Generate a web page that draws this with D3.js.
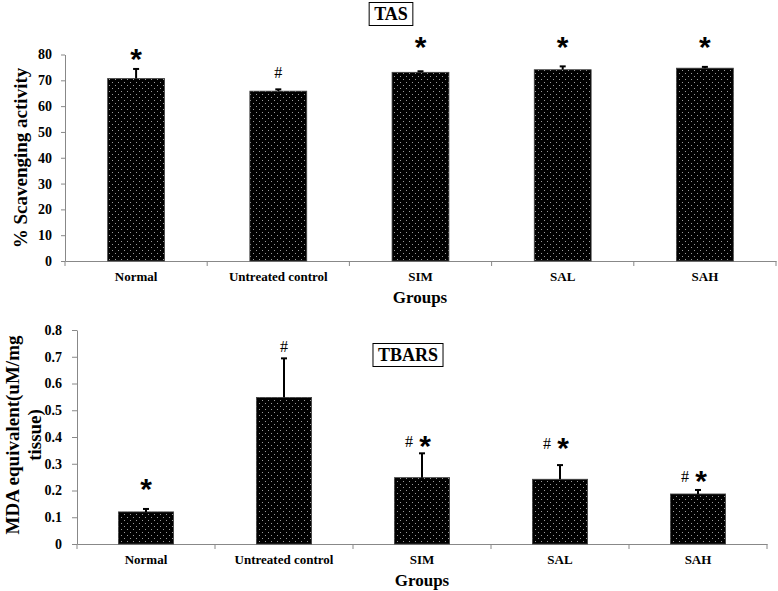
<!DOCTYPE html>
<html><head><meta charset="utf-8">
<script src="https://cdn.jsdelivr.net/npm/d3@7"></script>
<style>body{margin:0;background:#fff;} svg{display:block;font-family:"Liberation Serif","Times New Roman",serif;}</style>
</head><body>
<script>
const groups = ["Normal","Untreated control","SIM","SAL","SAH"];
const tasValues = [70.7, 65.8, 73.1, 74.1, 74.7];
const tasErrors = [3.7, 0.7, 0.4, 1.3, 0.5];
const tasMarks = ["*","#","*","*","*"];
const tasTicks = [0,10,20,30,40,50,60,70,80];
const tbarsValues = [0.12, 0.548, 0.248, 0.242, 0.187];
const tbarsErrors = [0.011, 0.146, 0.091, 0.053, 0.015];
const tbarsMarks = ["*","#","#*","#*","#*"];
const tbarsTicks = [0,0.1,0.2,0.3,0.4,0.5,0.6,0.7,0.8];

const W=778,H=591;
const svg=d3.select("body").append("svg").attr("width",W).attr("height",H);
const defs=svg.append("defs");
const pat=defs.append("pattern").attr("id","dots").attr("patternUnits","userSpaceOnUse").attr("width",6).attr("height",6);
pat.append("rect").attr("width",6).attr("height",6).attr("fill","#000");
pat.append("rect").attr("x",1).attr("y",1).attr("width",1).attr("height",1).attr("fill","#9a9a9a");
pat.append("rect").attr("x",4).attr("y",4).attr("width",1).attr("height",1).attr("fill","#9a9a9a");

function panel(o){
  const x=d3.scaleBand().domain(groups).range([o.x0,o.x1]).paddingInner(0.6).paddingOuter(0.3);
  const y=d3.scaleLinear().domain([0,o.ymax]).range([o.y0,o.y1]);
  const g=svg.append("g");
  const ya=g.append("g").attr("transform",`translate(${o.x0},0)`).call(d3.axisLeft(y).tickValues(o.ticks).tickSize(o.tk).tickPadding(o.tp).tickSizeOuter(0).tickFormat(o.fmt));
  ya.select(".domain").attr("stroke","#888");
  ya.selectAll(".tick line").attr("stroke","#888");
  ya.selectAll("text").attr("font-size",o.tfs).attr("font-weight","bold").attr("fill","#000").attr("font-family","Liberation Serif");
  const xa=g.append("g").attr("transform",`translate(0,${o.y0})`).call(d3.axisBottom(x).tickSize(0).tickSizeOuter(0));
  xa.select(".domain").attr("stroke","#888");
  xa.selectAll("text").attr("font-size",13).attr("font-weight","bold").attr("fill","#000").attr("font-family","Liberation Serif").attr("dy","1.3em");
  const step=x.step();
  const bounds=d3.range(groups.length+1).map(i=>o.x0+i*step);
  g.selectAll(".bt").data(bounds).join("line").attr("class","bt").attr("x1",d=>d).attr("x2",d=>d).attr("y1",o.y0).attr("y2",o.y0+5).attr("stroke","#888");
  g.selectAll(".bar").data(o.values).join("rect").attr("class","bar")
    .attr("x",(d,i)=>x(groups[i])).attr("y",d=>y(d)).attr("width",x.bandwidth()).attr("height",d=>y(0)-y(d))
    .attr("fill","url(#dots)").attr("stroke","#444").attr("stroke-width",0.8);
  const cx=i=>x(groups[i])+x.bandwidth()/2;
  g.selectAll(".eb").data(o.values).join("line").attr("class","eb")
    .attr("x1",(d,i)=>cx(i)).attr("x2",(d,i)=>cx(i)).attr("y1",d=>y(d)).attr("y2",(d,i)=>y(d+o.errors[i])).attr("stroke","#000").attr("stroke-width",2);
  g.selectAll(".ec").data(o.values).join("line").attr("class","ec")
    .attr("x1",(d,i)=>cx(i)-3).attr("x2",(d,i)=>cx(i)+3).attr("y1",(d,i)=>y(d+o.errors[i])).attr("y2",(d,i)=>y(d+o.errors[i])).attr("stroke","#000").attr("stroke-width",2);
  o.values.forEach((d,i)=>{
    const m=o.marks[i], yy=o.markY[i];
    if(m==="*"){
      g.append("text").attr("x",cx(i)).attr("y",yy+14).attr("text-anchor","middle").attr("font-family","Liberation Sans").attr("font-weight","bold").attr("font-size",30).text("*");
    } else if(m==="#"){
      g.append("text").attr("x",cx(i)).attr("y",yy+5).attr("text-anchor","middle").attr("font-family","Liberation Serif").attr("font-size",16).text("#");
    } else {
      g.append("text").attr("x",cx(i)-13).attr("y",yy+5).attr("text-anchor","middle").attr("font-family","Liberation Serif").attr("font-size",16).text("#");
      g.append("text").attr("x",cx(i)+3).attr("y",yy+14).attr("text-anchor","middle").attr("font-family","Liberation Sans").attr("font-weight","bold").attr("font-size",30).text("*");
    }
  });
  g.append("text").attr("x",o.gx).attr("y",o.gy).attr("text-anchor","middle").attr("font-weight","bold").attr("font-size",17).text("Groups");
  const box=g.append("rect").attr("fill","#fff").attr("stroke","#000").attr("stroke-width",1);
  const t=g.append("text").attr("x",o.tx).attr("y",o.ty+6).attr("text-anchor","middle").attr("font-weight","bold").attr("font-size",18).text(o.title);
  const bb=t.node().getBBox();
  box.attr("x",bb.x-5).attr("y",o.ty-11.5).attr("width",bb.width+10).attr("height",23);
}

panel({x0:65,x1:776,y0:261,y1:54.5,ymax:80,ticks:tasTicks,fmt:d3.format("d"),values:tasValues,errors:tasErrors,marks:tasMarks,
  markY:[55,73,43,43,43],tk:4,tp:9,tfs:14,gx:420,gy:303,title:"TAS",tx:391,ty:14});
panel({x0:77,x1:767,y0:544,y1:330,ymax:0.8,ticks:tbarsTicks,fmt:d=>d===0?"0":d3.format(".1f")(d),values:tbarsValues,errors:tbarsErrors,marks:tbarsMarks,
  markY:[485,347,442,444,477],tk:5,tp:10,tfs:14,gx:422,gy:586,title:"TBARS",tx:408,ty:355});

svg.append("text").attr("transform","translate(27,158) rotate(-90)").attr("text-anchor","middle").attr("font-weight","bold").attr("font-size",19).text("% Scavenging activity");
svg.append("text").attr("transform","translate(19,435) rotate(-90)").attr("text-anchor","middle").attr("font-weight","bold").attr("font-size",19).text("MDA equivalent(uM/mg");
svg.append("text").attr("transform","translate(41,435) rotate(-90)").attr("text-anchor","middle").attr("font-weight","bold").attr("font-size",19).text("tissue)");
</script>
</body></html>
